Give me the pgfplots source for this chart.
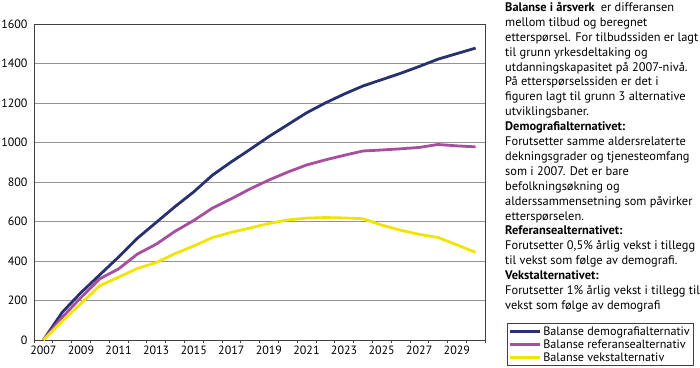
\documentclass[border=0pt]{standalone}
\usepackage{pgfplots}
\pgfplotsset{compat=1.18}
\usepackage{fontspec}
\setmainfont{PT Sans}
\definecolor{cblue}{RGB}{40,48,112}
\definecolor{cpurple}{RGB}{168,78,158}
\definecolor{cyellow}{RGB}{240,228,0}
\definecolor{frame}{RGB}{64,64,64}
\begin{document}
\begin{tikzpicture}
\useasboundingbox (-34bp,-28bp) rectangle (666bp,340bp);
\begin{axis}[
  at={(0,0)}, anchor=south west,
  scale only axis, width=451bp, height=316bp,
  xmin=2006.5, xmax=2030.5, ymin=0, ymax=1600,
  xtick={2007,2009,...,2029},
  minor xtick={2006.5,2007.5,...,2030.5},
  ytick={0,200,...,1600},
  major tick length=0pt,
  minor tick length=3bp,
  tick align=outside,
  xtick pos=bottom, ytick pos=left,
  every minor tick/.style={frame, line width=0.6bp},
  axis line style={frame, line width=0.8bp},
  ymajorgrids,
  major grid style={gray!85, line width=0.8bp},
  /pgf/number format/assume math mode=true,
  xticklabel style={/pgf/number format/1000 sep={}, font=\fontsize{12bp}{13bp}\selectfont, yshift=-2bp},
  yticklabel style={/pgf/number format/1000 sep={}, font=\fontsize{12bp}{13bp}\selectfont, xshift=-3bp},
  legend style={at={(1.049,-0.082)}, anchor=south west, draw=frame, line width=0.6bp,
    font=\fontsize{12.2bp}{13bp}\selectfont, inner sep=1bp, row sep=-1.2bp,
    legend cell align=left},
  legend image code/.code={\path (0bp,0bp) -- (9bp,0bp);\draw[#1, line width=3bp] (9bp,0bp) -- (30bp,0bp);},
]
\addplot[cblue, line width=2.8bp] coordinates {
(2007,0)(2008,140)(2009,240)(2010,330)(2011,420)(2012,515)(2013,595)(2014,675)
(2015,750)(2016,835)(2017,902)(2018,965)(2019,1030)(2020,1090)(2021,1150)(2022,1200)
(2023,1245)(2024,1286)(2025,1318)(2026,1350)(2027,1385)(2028,1422)(2029,1450)(2030,1478)};
\addlegendentry{Balanse demografialternativ}
\addplot[cpurple, line width=2.8bp] coordinates {
(2007,0)(2008,115)(2009,215)(2010,310)(2011,360)(2012,435)(2013,485)(2014,550)
(2015,605)(2016,668)(2017,715)(2018,765)(2019,810)(2020,850)(2021,886)(2022,912)
(2023,935)(2024,957)(2025,962)(2026,968)(2027,975)(2028,990)(2029,983)(2030,978)};
\addlegendentry{Balanse referansealternativ}
\addplot[cyellow, line width=2.8bp] coordinates {
(2007,0)(2008,95)(2009,185)(2010,275)(2011,318)(2012,362)(2013,392)(2014,437)
(2015,476)(2016,519)(2017,545)(2018,567)(2019,590)(2020,608)(2021,617)(2022,620)
(2023,618)(2024,614)(2025,582)(2026,556)(2027,535)(2028,519)(2029,482)(2030,444)};
\addlegendentry{Balanse vekstalternativ}
\end{axis}
\node[anchor=north west, inner sep=0pt, align=left,
  font=\fontsize{12.4bp}{14.9bp}\selectfont] at (471bp,338bp) {%
\textbf{Balanse i årsverk}\enspace er differansen\\
mellom tilbud og beregnet\\
etterspørsel. For tilbudssiden er lagt\\
til grunn yrkesdeltaking og\\
utdanningskapasitet på 2007-nivå.\\
På etterspørselssiden er det i\\
figuren lagt til grunn 3 alternative\\
utviklingsbaner.\\
\textbf{Demografialternativet:}\\
Forutsetter samme aldersrelaterte\\
dekningsgrader og tjenesteomfang\\
som i 2007. Det er bare\\
befolkningsøkning og\\
alderssammensetning som påvirker\\
etterspørselen.\\
\textbf{Referansealternativet:}\\
Forutsetter 0,5\% årlig vekst i tillegg\\
til vekst som følge av demografi.\\
\textbf{Vekstalternativet:}\\
Forutsetter 1\% årlig vekst i tillegg til\\
vekst som følge av demografi};
\end{tikzpicture}
\end{document}
